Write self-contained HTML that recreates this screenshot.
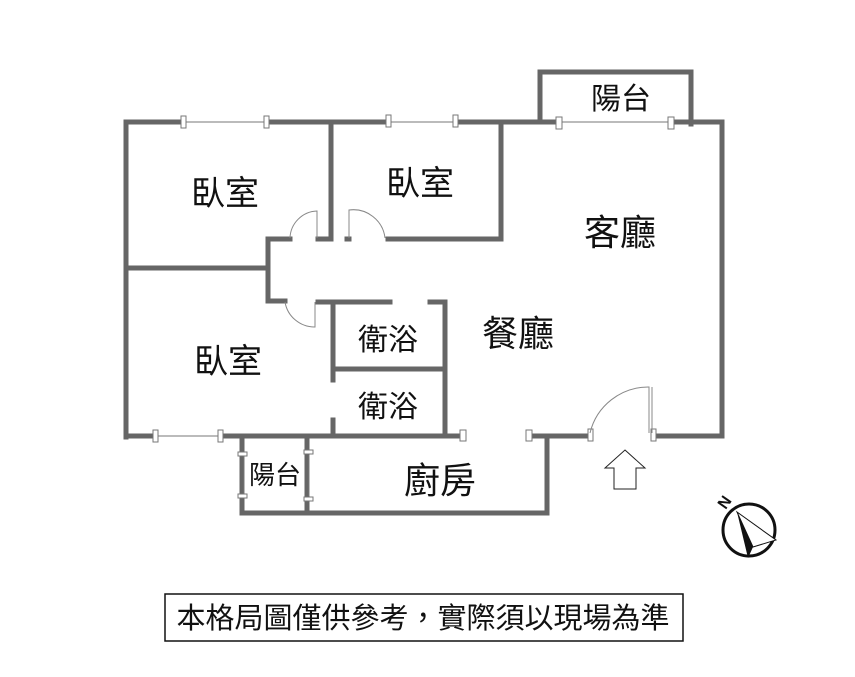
<!DOCTYPE html>
<html><head><meta charset="utf-8"><style>
html,body{margin:0;padding:0;background:#fff;}
svg{display:block;}
text{font-family:"Liberation Sans","Noto Sans CJK TC",sans-serif;fill:#111;}
</style></head><body>
<svg width="855" height="677" viewBox="0 0 855 677" xmlns="http://www.w3.org/2000/svg">
<g stroke="#666" stroke-width="5" fill="none" stroke-linecap="square">
<path d="M126 437 V122 H183 M267 122 H388 M455 122 H558 M671 122 H722 V436 H655"/>
<path d="M331 122 V238 M318 239 H331 M347 239 H349 M388 239 H501 V122"/>
<path d="M540 122 V72 H691 V124"/>
<path d="M290 239 H268 V301 H285 M268 268 H126"/>
<path d="M318 302 H390 M430 302 H445 V436 M333 302 V380 M333 420 V436 M333 369 H443"/>
<path d="M126 436 H155 M220 436 H463"/>
<path d="M530 436 H590 M547 436 V513 H242 V436 M307 436 V513"/>
</g>
<g stroke="#777" stroke-width="1" fill="#fff">
<line x1="183" y1="122" x2="267" y2="122"/><line x1="388" y1="122" x2="455" y2="122"/>
<line x1="558" y1="122" x2="671" y2="122"/><line x1="155" y1="436" x2="220" y2="436"/>
<line x1="244" y1="455" x2="244" y2="496"/><line x1="309" y1="455" x2="309" y2="496"/>
<rect x="181" y="116" width="5" height="12"/><rect x="264" y="116" width="5" height="12"/>
<rect x="386" y="115" width="5" height="12"/><rect x="453" y="115" width="5" height="12"/>
<rect x="556" y="117" width="6" height="12"/><rect x="668" y="117" width="6" height="12"/>
<rect x="153" y="430" width="5" height="12"/><rect x="218" y="430" width="5" height="12"/>
<rect x="460" y="430" width="6" height="11"/><rect x="526" y="430" width="6" height="11"/>
<rect x="238" y="452" width="9" height="4"/><rect x="238" y="494" width="9" height="4"/>
<rect x="304" y="450" width="9" height="4"/><rect x="304" y="497" width="9" height="4"/>
<rect x="588" y="429" width="5" height="12"/><rect x="651" y="429" width="5" height="12"/>
</g>
<g stroke="#888" stroke-width="1" fill="none">
<path d="M290 238 A28 28 0 0 1 317 211 V238"/>
<path d="M349 238 V210 A32 32 0 0 1 385 238"/>
<path d="M285 302 A30 30 0 0 0 315 327 V302"/>
<path d="M590 433 A60 60 0 0 1 649 387 V433 M652 387 V433"/>
</g>
<path d="M625 450 L645 468 L636 468 L636 489 L614 489 L614 468 L605 468 Z" fill="#fff" stroke="#222" stroke-width="1"/>
<circle cx="749" cy="530" r="26" fill="#fff" stroke="#111" stroke-width="3"/>
<path d="M737 512 L776 540 L753 547 Z" fill="#fff" stroke="#111" stroke-width="1"/>
<path d="M737 512 L753 547 L748 558 Z" fill="#111"/>
<text x="724" y="508" font-size="16" font-weight="bold" text-anchor="middle" transform="rotate(-55 724 502)">N</text>
<g font-size="34">
<text x="225" y="205" text-anchor="middle">臥室</text>
<text x="420" y="195" text-anchor="middle">臥室</text>
<text x="228" y="373" text-anchor="middle">臥室</text>
</g>
<g font-size="36">
<text x="620" y="245" text-anchor="middle">客廳</text>
<text x="518" y="346" text-anchor="middle">餐廳</text>
<text x="440" y="493" text-anchor="middle">廚房</text>
</g>
<g font-size="30">
<text x="388" y="350" text-anchor="middle">衛浴</text>
<text x="388" y="417" text-anchor="middle">衛浴</text>
<text x="621" y="109" text-anchor="middle">陽台</text>
</g>
<text x="275" y="484" font-size="26" text-anchor="middle">陽台</text>
<rect x="165" y="594" width="518" height="47" fill="#fff" stroke="#111" stroke-width="1.5"/>
<text x="423" y="628" font-size="29" text-anchor="middle">本格局圖僅供參考，實際須以現場為準</text>
</svg>
</body></html>
